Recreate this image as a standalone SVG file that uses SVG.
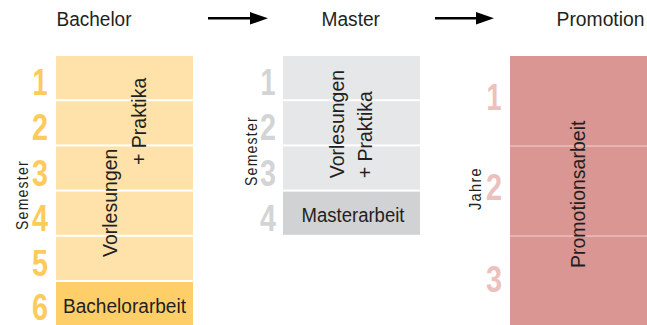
<svg xmlns="http://www.w3.org/2000/svg" width="647" height="325" viewBox="0 0 647 325">
<defs>
<style>
text{font-family:"Liberation Sans",Arial,sans-serif;fill:#231f20}
.hd{font-size:19.5px}
.lbl{font-size:19.5px}
.ax{font-size:16.5px;letter-spacing:1.5px}
.num{font-size:37px;font-weight:bold;text-anchor:middle}
.bl{fill:#fee2a9}.bd{fill:#fecf68}.bn{fill:#fdca5c}
.ml{fill:#e6e7e8}.md{fill:#d1d2d4}.mn{fill:#d3d4d5}
.pr{fill:#d99693}.pn{fill:#ebc1be}
</style>
<marker id="ah" viewBox="0 0 18 12.5" refX="0" refY="6.25" markerWidth="18" markerHeight="12.5" markerUnits="userSpaceOnUse" orient="auto">
<polygon points="0,0 18,6.25 0,12.5" fill="#000"/>
</marker>
</defs>
<rect width="647" height="325" fill="#fff"/>

<g id="header-bachelor"><text class="hd" x="56.5" y="26" textLength="75" lengthAdjust="spacingAndGlyphs">Bachelor</text></g>
<g id="header-master"><text class="hd" x="321.5" y="26" textLength="58.5" lengthAdjust="spacingAndGlyphs">Master</text></g>
<g id="header-promotion"><text class="hd" x="556.5" y="26" textLength="88" lengthAdjust="spacingAndGlyphs">Promotion</text></g>

<g id="connectors" stroke="#000" stroke-width="2.6">
<line x1="208" y1="18.3" x2="250" y2="18.3" marker-end="url(#ah)"/>
<line x1="435" y1="18.3" x2="476" y2="18.3" marker-end="url(#ah)"/>
</g>

<g id="bachelor">
<rect class="bl" x="56" y="56" width="137" height="43.2"/>
<rect class="bl" x="56" y="101.2" width="137" height="43.2"/>
<rect class="bl" x="56" y="146.4" width="137" height="43.2"/>
<rect class="bl" x="56" y="191.6" width="137" height="43.2"/>
<rect class="bl" x="56" y="236.8" width="137" height="43.2"/>
<rect class="bd" x="56" y="282" width="137" height="43.2"/>
<text class="num bn" textLength="15" lengthAdjust="spacingAndGlyphs" x="40" y="95">1</text>
<text class="num bn" textLength="16" lengthAdjust="spacingAndGlyphs" x="40" y="140">2</text>
<text class="num bn" textLength="16" lengthAdjust="spacingAndGlyphs" x="40" y="185.5">3</text>
<text class="num bn" textLength="16" lengthAdjust="spacingAndGlyphs" x="40" y="230.5">4</text>
<text class="num bn" textLength="16" lengthAdjust="spacingAndGlyphs" x="40" y="275.5">5</text>
<text class="num bn" textLength="16" lengthAdjust="spacingAndGlyphs" x="40" y="320">6</text>
<text class="ax" x="27.5" y="230" transform="rotate(-90 27.5 230)" textLength="70" lengthAdjust="spacingAndGlyphs">Semester</text>
<text class="lbl" x="117" y="257" transform="rotate(-90 117 257)">Vorlesungen</text>
<text class="lbl" x="145.5" y="165" transform="rotate(-90 145.5 165)">+ Praktika</text>
<text class="hd" x="124.5" y="312.7" text-anchor="middle" textLength="123" lengthAdjust="spacingAndGlyphs">Bachelorarbeit</text>
</g>

<g id="master">
<rect class="ml" x="283" y="56" width="137" height="43.2"/>
<rect class="ml" x="283" y="101.2" width="137" height="43.2"/>
<rect class="ml" x="283" y="146.4" width="137" height="43.2"/>
<rect class="md" x="283" y="191.6" width="137" height="43.2"/>
<text class="num mn" textLength="15" lengthAdjust="spacingAndGlyphs" x="268" y="95">1</text>
<text class="num mn" textLength="16" lengthAdjust="spacingAndGlyphs" x="268" y="140">2</text>
<text class="num mn" textLength="16" lengthAdjust="spacingAndGlyphs" x="268" y="185.5">3</text>
<text class="num mn" textLength="16" lengthAdjust="spacingAndGlyphs" x="268" y="230.5">4</text>
<text class="ax" x="257" y="186" transform="rotate(-90 257 186)" textLength="70" lengthAdjust="spacingAndGlyphs">Semester</text>
<text class="lbl" x="344" y="178.3" transform="rotate(-90 344 178.3)">Vorlesungen</text>
<text class="lbl" x="372.3" y="178.3" transform="rotate(-90 372.3 178.3)">+ Praktika</text>
<text class="hd" x="353" y="221.7" text-anchor="middle" textLength="103" lengthAdjust="spacingAndGlyphs">Masterarbeit</text>
</g>

<g id="promotion">
<rect class="pr" x="510" y="56" width="137" height="269"/>
<line x1="510" y1="146" x2="647" y2="146" stroke="#f1d3d1" stroke-width="1"/>
<line x1="510" y1="236" x2="647" y2="236" stroke="#f1d3d1" stroke-width="1"/>
<text class="num pn" textLength="15" lengthAdjust="spacingAndGlyphs" x="494" y="110">1</text>
<text class="num pn" textLength="16" lengthAdjust="spacingAndGlyphs" x="494" y="200">2</text>
<text class="num pn" textLength="16" lengthAdjust="spacingAndGlyphs" x="494" y="291.5">3</text>
<text class="ax" x="481" y="210" transform="rotate(-90 481 210)" textLength="43" lengthAdjust="spacingAndGlyphs">Jahre</text>
<text class="lbl" x="585" y="268" transform="rotate(-90 585 268)">Promotionsarbeit</text>
</g>
</svg>
